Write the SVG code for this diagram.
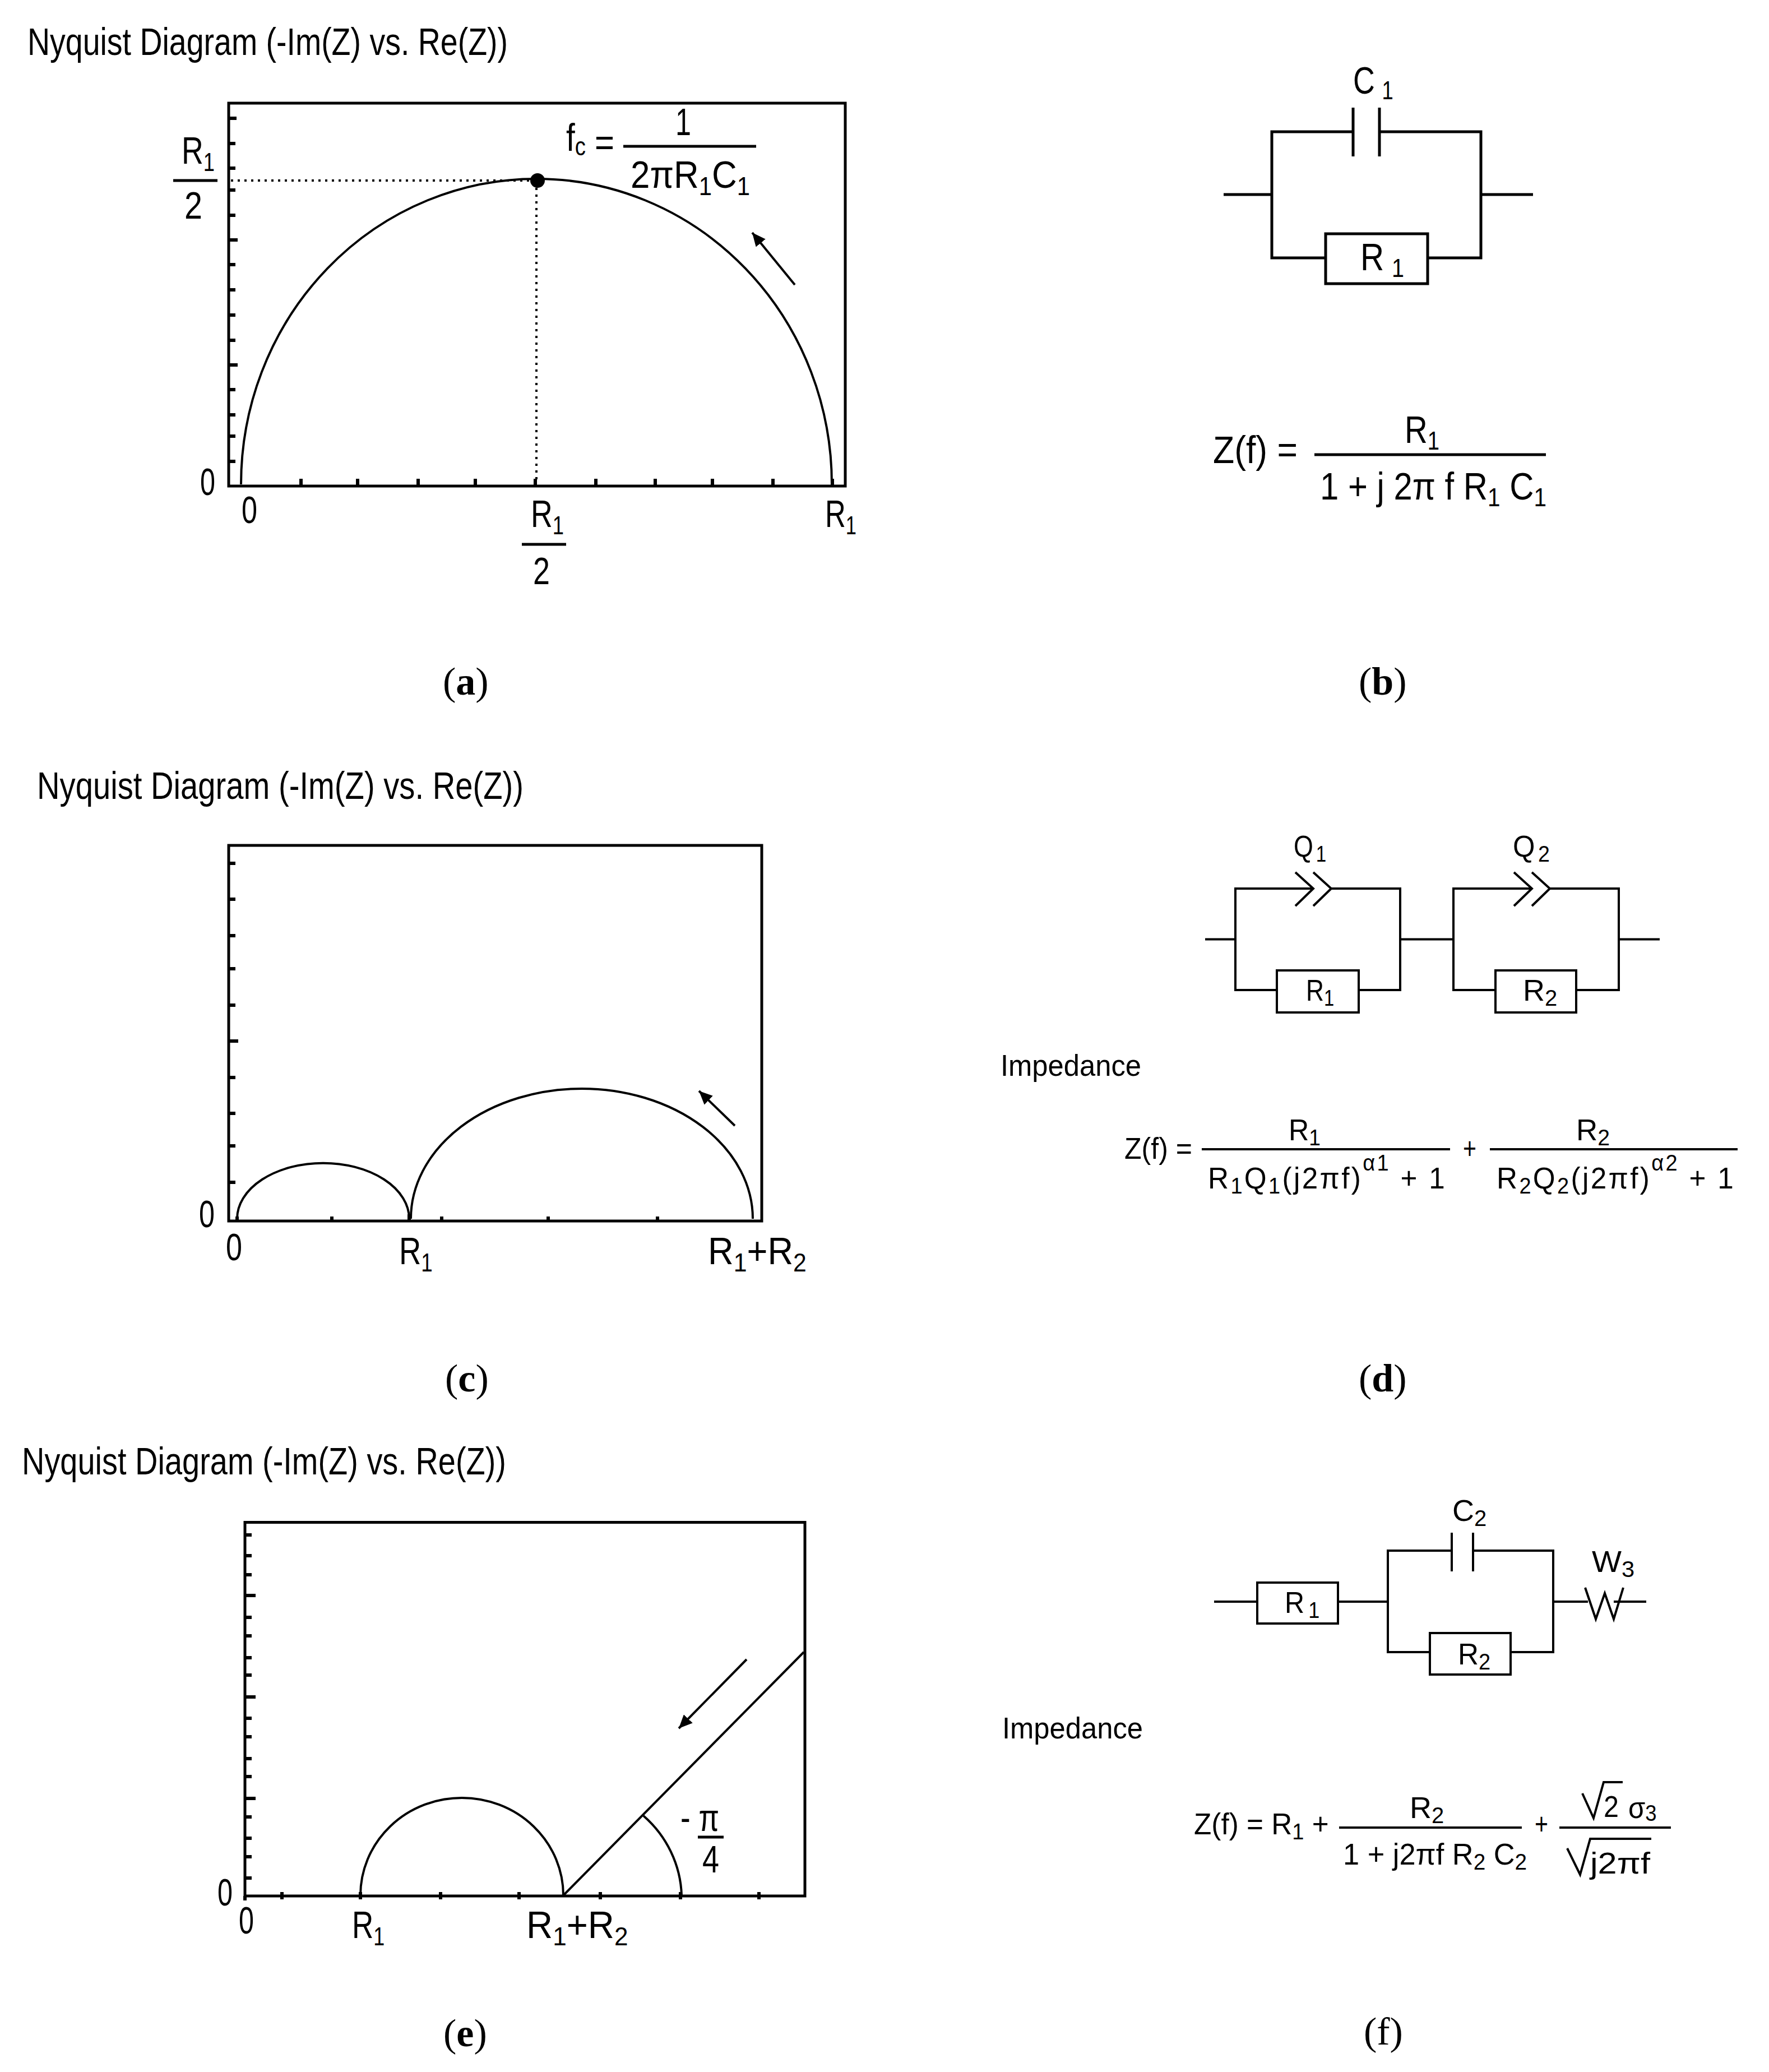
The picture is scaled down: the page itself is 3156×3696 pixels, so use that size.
<svg xmlns="http://www.w3.org/2000/svg" width="3156" height="3696" viewBox="0 0 3156 3696">
<style>
text{font-family:"Liberation Sans",Arial,sans-serif;fill:#000}
.big{font-size:68px}
.mid{font-size:54px}
.s{font-size:46px}
.ms{font-size:40px}
.sp{letter-spacing:3.500px}
.cap{font-family:"Liberation Serif","Times New Roman",serif;font-size:70px}
.cap tspan{font-weight:bold}
.ln{fill:none;stroke:#000;stroke-width:5}
.tk{fill:none;stroke:#000;stroke-width:6}
.th{fill:none;stroke:#000;stroke-width:4}
.cv{fill:none;stroke:#000;stroke-width:4}
.dot{fill:none;stroke:#000;stroke-width:4;stroke-dasharray:4 8}
.ar{fill:none;stroke:#000;stroke-width:4;marker-end:url(#head)}
</style>
<defs>
<marker id="head" markerUnits="userSpaceOnUse" markerWidth="26" markerHeight="22" refX="24" refY="11" orient="auto"><path d="M0,0L24,11L0,22z" fill="#000"/></marker>
</defs>
<rect width="3156" height="3696" fill="#fff"/>

<g id="panel-a">
<text x="49" y="98" class="big" textLength="857" lengthAdjust="spacingAndGlyphs">Nyquist Diagram (-Im(Z) vs. Re(Z))</text>
<rect x="408" y="184" width="1100" height="683" class="ln"/>
<path class="tk" d="M408 211h14M408 256h12M408 300h12M408 339h12M408 384h12M408 428h16M408 472h12M408 517h12M408 562h12M408 607h12M408 651h16M408 695h12M408 740h12M408 778h12M408 823h12M537 867v-13M638 867v-13M746 867v-13M848 867v-13M955 867v-13M1063 867v-13M1169 867v-13M1271 867v-13M1379 867v-13M1485 867v-13"/>
<path class="cv" d="M430 864A527 545 0 0 1 1484 864"/>
<path class="dot" d="M412 322H945M957 335V860"/>
<circle cx="959" cy="322" r="13" fill="#000"/>
<path class="ar" d="M1418 508L1342 415"/>
<text transform="translate(324 292) scale(.79 1)" class="big">R<tspan class="s" dy="13">1</tspan></text>
<path class="ln" d="M309 322H388"/>
<text x="329" y="390" class="big" textLength="32" lengthAdjust="spacingAndGlyphs">2</text>
<text x="357" y="883" class="big" textLength="27" lengthAdjust="spacingAndGlyphs">0</text>
<text x="431" y="933" class="big" textLength="28" lengthAdjust="spacingAndGlyphs">0</text>
<text transform="translate(947 940) scale(.79 1)" class="big">R<tspan class="s" dy="13">1</tspan></text>
<path class="ln" d="M931 971H1010"/>
<text x="951" y="1042" class="big" textLength="30" lengthAdjust="spacingAndGlyphs">2</text>
<text transform="translate(1472 940) scale(.75 1)" class="big">R<tspan class="s" dy="13">1</tspan></text>
<text transform="translate(1010 269) scale(.835 1)" class="big">f<tspan class="s" dy="8">c</tspan></text>
<text x="1061" y="278" class="big" textLength="35" lengthAdjust="spacingAndGlyphs">=</text>
<path class="ln" d="M1112 261H1349"/>
<text x="1205" y="241" class="big" textLength="28" lengthAdjust="spacingAndGlyphs">1</text>
<text transform="translate(1125 335) scale(.91 1)" class="big">2πR<tspan class="s" dy="13">1</tspan><tspan dy="-13">C</tspan><tspan class="s" dy="13">1</tspan></text>
<text x="790" y="1239" class="cap">(<tspan>a</tspan>)</text>
</g>

<g id="panel-b">
<g id="circuit-b" class="circuit">
<path class="ln" d="M2183 347H2269M2414 235H2269V460H2365M2461 235H2642V460H2547M2642 347H2735"/>
<path class="ln" d="M2414 192V279M2461 192V279"/>
<rect x="2365" y="417" width="182" height="89" class="ln"/>
</g>
<text transform="translate(2414 167) scale(.79 1)" class="big">C<tspan class="s" dx="16" dy="10">1</tspan></text>
<text transform="translate(2427 482) scale(.86 1)" class="big">R<tspan class="s" dx="16" dy="12">1</tspan></text>
<text x="2164" y="826" class="big" textLength="151" lengthAdjust="spacingAndGlyphs">Z(f) =</text>
<path class="ln" d="M2345 811H2758"/>
<text transform="translate(2506 790) scale(.83 1)" class="big">R<tspan class="s" dy="12">1</tspan></text>
<text transform="translate(2355 891) scale(.88 1)" class="big">1 + j 2π f R<tspan class="s" dy="12">1</tspan><tspan dy="-12"> C</tspan><tspan class="s" dy="12">1</tspan></text>
<text x="2424" y="1239" class="cap">(<tspan>b</tspan>)</text>
</g>

<g id="panel-c">
<text x="66" y="1425" class="big" textLength="868" lengthAdjust="spacingAndGlyphs">Nyquist Diagram (-Im(Z) vs. Re(Z))</text>
<rect x="408" y="1508" width="951" height="670" class="ln"/>
<path class="tk" d="M408 1540h12M408 1604h12M408 1669h12M408 1728h12M408 1793h12M408 1857h17M408 1922h12M408 1986h12M408 2044h12M408 2109h12M423 2178v-8M592 2178v-8M730 2178v-12M788 2178v-8M978 2178v-8M1173 2178v-8"/>
<path class="cv" d="M423 2174A153 99 0 0 1 730 2174"/>
<path class="cv" d="M733 2174A305 232 0 0 1 1343 2174"/>
<path class="ar" d="M1311 2008L1247 1946"/>
<text x="355" y="2189" class="big" textLength="28" lengthAdjust="spacingAndGlyphs">0</text>
<text x="403" y="2248" class="big" textLength="29" lengthAdjust="spacingAndGlyphs">0</text>
<text transform="translate(712 2255) scale(.8 1)" class="big">R<tspan class="s" dy="13">1</tspan></text>
<text transform="translate(1263 2255) scale(.93 1)" class="big">R<tspan class="s" dy="13">1</tspan><tspan dy="-13">+R</tspan><tspan class="s" dy="13">2</tspan></text>
<text x="794" y="2482" class="cap">(<tspan>c</tspan>)</text>
</g>

<g id="panel-d">
<g id="circuit-d" class="circuit">
<path class="th" d="M2150 1675.500H2204M2498 1675.500H2593M2888 1675.500H2961"/>
<path class="th" d="M2343 1585H2204V1766H2278M2375 1585H2498V1766H2424"/>
<path class="th" d="M2733 1585H2593V1766H2668M2765 1585H2888V1766H2812"/>
<path class="th" d="M2311 1556L2343 1585L2311 1616M2343 1556L2375 1585L2343 1616M2701 1556L2733 1585L2701 1616M2733 1556L2765 1585L2733 1616"/>
<rect x="2278" y="1731" width="146" height="75" class="th"/>
<rect x="2668" y="1731" width="144" height="75" class="th"/>
</g>
<text transform="translate(2308 1528) scale(.83 1)" class="mid">Q<tspan class="ms" dx="6" dy="9">1</tspan></text>
<text transform="translate(2699 1528) scale(.94 1)" class="mid">Q<tspan class="ms" dx="6" dy="9">2</tspan></text>
<text transform="translate(2330 1785) scale(.82 1)" class="mid">R<tspan class="ms" dy="9">1</tspan></text>
<text transform="translate(2717 1785) scale(1 1)" class="mid">R<tspan class="ms" dy="9">2</tspan></text>
<text x="1785" y="1919" class="mid" textLength="251" lengthAdjust="spacingAndGlyphs">Impedance</text>
<text x="2006" y="2067" class="mid" textLength="121" lengthAdjust="spacingAndGlyphs">Z(f) =</text>
<path class="th" d="M2144 2050H2587M2658 2050H3100"/>
<text transform="translate(2299 2034) scale(.93 1)" class="mid">R<tspan class="ms" dy="9">1</tspan></text>
<text transform="translate(2155 2120) scale(.95 1)" class="mid sp">R<tspan class="ms" dy="9">1</tspan><tspan dy="-9">Q</tspan><tspan class="ms" dy="9">1</tspan><tspan dy="-9">(j2πf)</tspan><tspan class="ms" dy="-32">α1</tspan><tspan dy="32"> + 1</tspan></text>
<text x="2610" y="2067" class="mid" textLength="24" lengthAdjust="spacingAndGlyphs">+</text>
<text transform="translate(2812 2034) scale(.98 1)" class="mid">R<tspan class="ms" dy="9">2</tspan></text>
<text transform="translate(2670 2120) scale(.95 1)" class="mid sp">R<tspan class="ms" dy="9">2</tspan><tspan dy="-9">Q</tspan><tspan class="ms" dy="9">2</tspan><tspan dy="-9">(j2πf)</tspan><tspan class="ms" dy="-32">α2</tspan><tspan dy="32"> + 1</tspan></text>
<text x="2424" y="2482" class="cap">(<tspan>d</tspan>)</text>
</g>

<g id="panel-e">
<text x="39" y="2630" class="big" textLength="864" lengthAdjust="spacingAndGlyphs">Nyquist Diagram (-Im(Z) vs. Re(Z))</text>
<rect x="437" y="2715.500" width="999" height="666.500" class="ln"/>
<path class="tk" d="M437 2738h12M437 2775h12M437 2809h12M437 2846h19M437 2885h12M437 2918h12M437 2957h12M437 2988h12M437 3027h19M437 3065h12M437 3098h12M437 3137h12M437 3169h12M437 3208h19M437 3241h12M437 3279h12M437 3312h12M437 3350h12M437 3382v8M503 3375v13M643 3375v13M786 3375v13M926 3375v13M1071 3375v13M1214 3375v13M1354 3375v13"/>
<path class="cv" d="M643 3381A181 174 0 0 1 1005 3381"/>
<path class="th" d="M1005 3381L1434 2947"/>
<path class="cv" d="M1148 3239A208 200 0 0 1 1216 3381"/>
<path class="ar" d="M1332 2960L1211 3083"/>
<text x="388" y="3399" class="big" textLength="27" lengthAdjust="spacingAndGlyphs">0</text>
<text x="426" y="3449" class="big" textLength="27" lengthAdjust="spacingAndGlyphs">0</text>
<text transform="translate(628 3457) scale(.78 1)" class="big">R<tspan class="s" dy="13">1</tspan></text>
<text transform="translate(939 3457) scale(.96 1)" class="big">R<tspan class="s" dy="13">1</tspan><tspan dy="-13">+R</tspan><tspan class="s" dy="13">2</tspan></text>
<text x="1214" y="3266" class="big" textLength="69" lengthAdjust="spacingAndGlyphs">- π</text>
<path class="ln" d="M1245 3277H1291"/>
<text x="1253" y="3340" class="big" textLength="30" lengthAdjust="spacingAndGlyphs">4</text>
<text x="791" y="3650" class="cap">(<tspan>e</tspan>)</text>
</g>

<g id="panel-f">
<g id="circuit-f" class="circuit">
<path class="th" d="M2166 2857H2243M2387 2857H2476M2771 2857H2833M2879 2857H2937"/>
<path class="th" d="M2590 2766H2476V2947H2551M2628 2766H2771V2947H2695"/>
<path class="th" d="M2590 2734V2803M2628 2734V2803"/>
<rect x="2243" y="2823" width="144" height="73" class="th"/>
<rect x="2551" y="2913" width="144" height="74" class="th"/>
<path class="th" d="M2828 2832L2847 2888L2863 2842L2879 2888L2896 2832"/>
</g>
<text transform="translate(2591 2713) scale(1 1)" class="mid">C<tspan class="ms" dy="9">2</tspan></text>
<text transform="translate(2840 2804) scale(1.04 1)" class="mid">W<tspan class="ms" dy="9">3</tspan></text>
<text transform="translate(2292 2877) scale(.9 1)" class="mid">R<tspan class="ms" dx="8" dy="9">1</tspan></text>
<text transform="translate(2601 2969) scale(.95 1)" class="mid">R<tspan class="ms" dy="9">2</tspan></text>
<text x="1788" y="3101" class="mid" textLength="251" lengthAdjust="spacingAndGlyphs">Impedance</text>
<text transform="translate(2130 3272) scale(.95 1)" class="mid">Z(f) = R<tspan class="ms" dy="9">1</tspan><tspan dy="-9"> +</tspan></text>
<path class="th" d="M2389 3260H2715M2782 3260H2981"/>
<text transform="translate(2515 3243) scale(1 1)" class="mid">R<tspan class="ms" dy="9">2</tspan></text>
<text transform="translate(2396 3326) scale(.97 1)" class="mid">1 + j2πf R<tspan class="ms" dy="9">2</tspan><tspan dy="-9"> C</tspan><tspan class="ms" dy="9">2</tspan></text>
<text x="2738" y="3272" class="mid" textLength="24" lengthAdjust="spacingAndGlyphs">+</text>
<path class="th" d="M2823 3199L2843 3243L2861 3179H2895M2796 3297L2819 3344L2837 3280H2946"/>
<text x="2861" y="3241" class="mid" textLength="27" lengthAdjust="spacingAndGlyphs">2</text>
<text transform="translate(2905 3243) scale(.91 1)" class="mid">σ<tspan class="ms" dy="5">3</tspan></text>
<text x="2837" y="3342" class="mid" textLength="107" lengthAdjust="spacingAndGlyphs">j2πf</text>
<text x="2433" y="3647" class="cap">(f)</text>
</g>
</svg>
